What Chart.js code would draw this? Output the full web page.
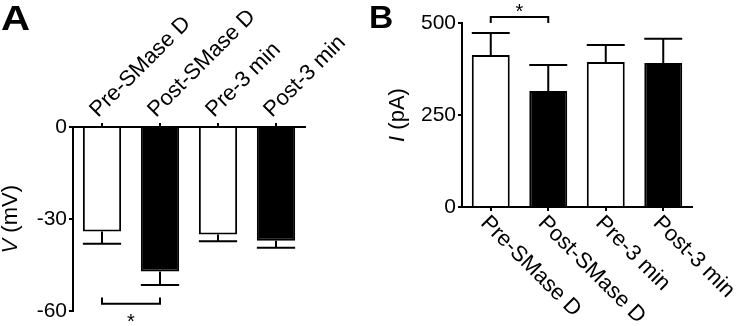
<!DOCTYPE html>
<html>
<head>
<meta charset="utf-8">
<script src="https://cdn.jsdelivr.net/npm/chart.js@4.4.1/dist/chart.umd.min.js"></script>
<style>
body { margin: 0; background: #fff; width: 740px; height: 326px; position: relative; overflow: hidden; font-family: "Liberation Sans", Arial, sans-serif; }
.painel { position: absolute; top: 0; width: 370px; height: 326px; }
.letra { position: absolute; font-weight: bold; color: #000; line-height: 1; transform-origin: left top; }
</style>
</head>
<body>
<div class="painel" style="left:0"><canvas id="grafA"></canvas></div>
<div class="painel" style="left:370px"><canvas id="grafB"></canvas></div>
<div class="letra" style="left:1px;top:0px;font-size:35px;transform:scaleX(1.15)">A</div>
<div class="letra" style="left:369px;top:1px;font-size:32px;transform:scaleX(1.05)">B</div>
<script>
// dados
let categorias = ['Pre-SMase D', 'Post-SMase D', 'Pre-3 min', 'Post-3 min']
let voltagem = [-34, -47, -35, -37]          // V (mV)
let voltagemErro = [4, 4.4, 2.2, 2.3]
let corrente = [413, 315, 394, 391]          // I (pA)
let correnteErro = [60, 71, 46, 66]
let ticksV = [0, -30, -60]
let ticksI = [0, 250, 500]

Chart.defaults.font.family = "'Liberation Sans', Arial, sans-serif"
Chart.defaults.color = '#000'

// barras de erro, so para fora
const erroPlugin = {
  id: 'erro',
  afterDatasetsDraw(chart, args, opts) {
    const ctx = chart.ctx
    const y = chart.scales.y
    const meta = chart.getDatasetMeta(0)
    ctx.save()
    ctx.strokeStyle = '#000'
    ctx.lineWidth = 2
    meta.data.forEach((bar, i) => {
      const v = chart.data.datasets[0].data[i]
      const e = opts.erros[i]
      const fim = y.getPixelForValue(v < 0 ? v - e : v + e)
      ctx.beginPath()
      ctx.moveTo(bar.x, bar.y)
      ctx.lineTo(bar.x, fim)
      ctx.moveTo(bar.x - bar.width / 2, fim)
      ctx.lineTo(bar.x + bar.width / 2, fim)
      ctx.stroke()
    })
    ctx.restore()
  }
}

// colchete de significancia + asterisco
const sigPlugin = {
  id: 'sig',
  afterDraw(chart, args, opts) {
    const ctx = chart.ctx
    const x = chart.scales.x, y = chart.scales.y
    const x1 = x.getPixelForValue(opts.de), x2 = x.getPixelForValue(opts.ate)
    const yn = y.getPixelForValue(opts.nivel), yp = y.getPixelForValue(opts.perna)
    ctx.save()
    ctx.strokeStyle = '#000'
    ctx.lineWidth = 2
    ctx.beginPath()
    ctx.moveTo(x1, yp); ctx.lineTo(x1, yn); ctx.lineTo(x2, yn); ctx.lineTo(x2, yp)
    ctx.stroke()
    ctx.fillStyle = '#000'
    ctx.font = '20px "Liberation Sans", Arial'
    ctx.textAlign = 'center'
    ctx.textBaseline = 'middle'
    ctx.fillText('*', (x1 + x2) / 2, yn + opts.dyEstrela)
    ctx.restore()
  }
}

// titulo do eixo y com a letra em italico
const tituloPlugin = {
  id: 'tituloY',
  afterDraw(chart, args, opts) {
    const ctx = chart.ctx
    const a = chart.chartArea
    ctx.save()
    ctx.translate(opts.x, (a.top + a.bottom) / 2)
    ctx.rotate(-Math.PI / 2)
    ctx.fillStyle = '#000'
    ctx.textBaseline = 'middle'
    const fi = 'italic 22px "Liberation Sans", Arial'
    const fn = '22px "Liberation Sans", Arial'
    ctx.font = fi
    const w1 = ctx.measureText(opts.letra).width
    ctx.font = fn
    const w2 = ctx.measureText(opts.resto).width
    let x0 = -(w1 + w2) / 2
    ctx.font = fi
    ctx.textAlign = 'left'
    ctx.fillText(opts.letra, x0, 0)
    ctx.font = fn
    ctx.fillText(opts.resto, x0 + w1, 0)
    ctx.restore()
  }
}

// rotulos das categorias inclinados a 45 graus
// A: acima do eixo, subindo; B: abaixo do eixo, descendo
const rotulosPlugin = {
  id: 'rotulos',
  afterDraw(chart, args, opts) {
    const ctx = chart.ctx
    const x = chart.scales.x
    const a = chart.chartArea
    ctx.save()
    ctx.fillStyle = '#000'
    ctx.font = '22px "Liberation Sans", Arial'
    ctx.textAlign = 'left'
    chart.data.labels.forEach((lab, i) => {
      ctx.save()
      if (opts.emCima) {
        ctx.translate(x.getPixelForValue(i) - 4, a.top - 9)
        ctx.rotate(-Math.PI / 4)
        ctx.textBaseline = 'alphabetic'
      } else {
        ctx.translate(x.getPixelForValue(i) + 1, a.bottom + 5)
        ctx.rotate(Math.PI / 4)
        ctx.textBaseline = 'top'
      }
      ctx.fillText(lab, 0, 0)
      ctx.restore()
    })
    ctx.restore()
  }
}

function eixo(extra) {
  return Object.assign({
    grid: { drawOnChartArea: false, offset: false, color: '#000', lineWidth: 2, tickLength: 4 },
    border: { color: '#000', width: 2 }
  }, extra)
}

new Chart(document.getElementById('grafA'), {
  type: 'bar',
  data: {
    labels: categorias,
    datasets: [{
      data: voltagem,
      backgroundColor: ['#fff', '#000', '#fff', '#000'],
      borderColor: '#000',
      borderWidth: 2,
      borderSkipped: 'start',
      barPercentage: 0.66,
      categoryPercentage: 1
    }]
  },
  options: {
    responsive: true, maintainAspectRatio: false, animation: false,
    events: [],
    layout: { padding: { left: 0, right: 65, top: 0, bottom: 13 } },
    plugins: {
      legend: { display: false }, tooltip: { enabled: false },
      erro: { erros: voltagemErro },
      sig: { de: 0, ate: 1, nivel: -57.5, perna: -55.5, dyEstrela: 19 },
      tituloY: { x: 11, letra: 'V', resto: ' (mV)' },
      rotulos: { emCima: true }
    },
    scales: {
      x: eixo({
        position: 'top',
        ticks: { display: false },
        afterFit(s) { s.height = 127 }
      }),
      y: eixo({
        min: -60, max: 0,
        afterBuildTicks(s) { s.ticks = ticksV.map(v => ({ value: v })) },
        ticks: { font: { size: 21 }, padding: 2 },
        afterFit(s) { s.width = 73 }
      })
    }
  },
  plugins: [erroPlugin, sigPlugin, tituloPlugin, rotulosPlugin]
})

new Chart(document.getElementById('grafB'), {
  type: 'bar',
  data: {
    labels: categorias,
    datasets: [{
      data: corrente,
      backgroundColor: ['#fff', '#000', '#fff', '#000'],
      borderColor: '#000',
      borderWidth: 2,
      borderSkipped: 'start',
      barPercentage: 0.66,
      categoryPercentage: 1
    }]
  },
  options: {
    responsive: true, maintainAspectRatio: false, animation: false,
    events: [],
    layout: { padding: { left: 0, right: 48, top: 23, bottom: 115 } },
    plugins: {
      legend: { display: false }, tooltip: { enabled: false },
      erro: { erros: correnteErro },
      sig: { de: 0, ate: 1, nivel: 516, perna: 500, dyEstrela: -5 },
      tituloY: { x: 28, letra: 'I', resto: ' (pA)' },
      rotulos: { emCima: false }
    },
    scales: {
      x: eixo({
        ticks: { display: false },
        afterFit(s) { s.height = 4 }
      }),
      y: eixo({
        min: 0, max: 500,
        afterBuildTicks(s) { s.ticks = ticksI.map(v => ({ value: v })) },
        ticks: { font: { size: 21 }, padding: 2 },
        afterFit(s) { s.width = 92 }
      })
    }
  },
  plugins: [erroPlugin, sigPlugin, tituloPlugin, rotulosPlugin]
})
</script>
</body>
</html>
